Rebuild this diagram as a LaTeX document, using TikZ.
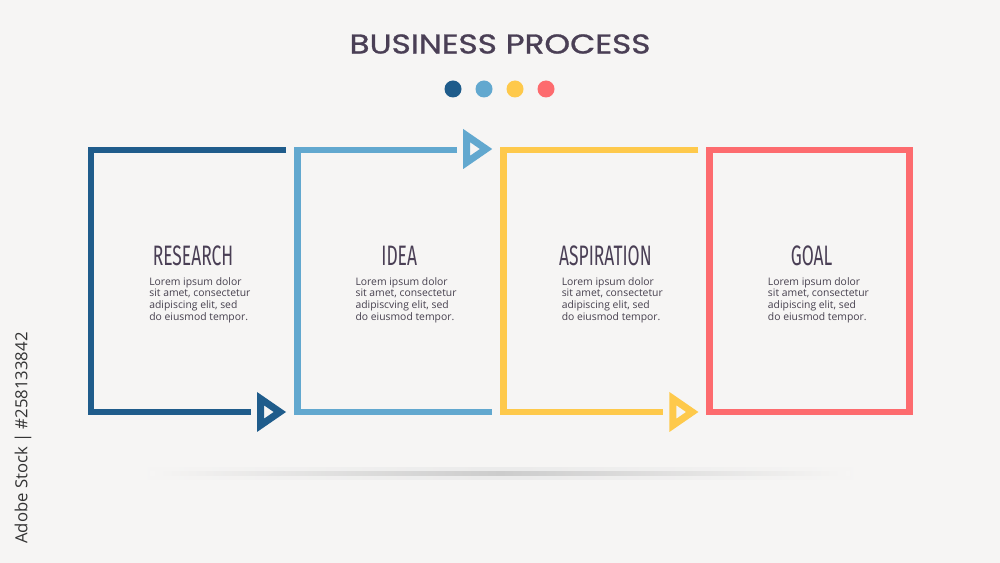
\documentclass[tikz,border=0pt]{standalone}
\usepackage{fontspec}
\setmainfont{Open Sans}
\newfontfamily\titlefont[FakeStretch=1.2,FakeBold=1]{Poppins}
\newfontfamily\headfont[FakeStretch=0.62]{Fira Sans}
\usetikzlibrary{positioning}
\definecolor{bgwhite}{RGB}{246,245,244}
\definecolor{stepblue}{RGB}{31,92,139}
\definecolor{skyblue}{RGB}{98,168,207}
\definecolor{sunyellow}{RGB}{254,201,75}
\definecolor{coral}{RGB}{253,107,110}
\definecolor{plum}{RGB}{74,63,85}
\definecolor{inkgray}{RGB}{70,64,78}
\newcommand\tipmark[3]{%
  \fill[#3,even odd rule,shift={(#1,#2)}]
    (0,-20) -- (29,0) -- (0,20) -- cycle
    (7,-6.7) -- (16.7,0) -- (7,6.7) -- cycle;}

\begin{document}
\begin{tikzpicture}[x=0.02cm,y=-0.02cm,
  frame/.style={line width=3.9pt,line join=miter},
  head/.style={font=\headfont\fontsize{16}{18}\selectfont,text=plum},
  body/.style={anchor=north west,align=left,inner sep=0pt,
    font=\fontsize{5.9}{6.6}\selectfont,text=inkgray}]
  \def\bs{206.2}
  \def\bx{200}

  \fill[bgwhite] (0,0) rectangle (1000,563);
  \useasboundingbox (0,0) rectangle (1000,563);

  \shade[left color=bgwhite,right color=bgwhite,middle color=black!8]
    (130,467) rectangle (870,479);
  \shade[left color=bgwhite,right color=bgwhite,middle color=black!20]
    (150,471) rectangle (850,475);

  \node[font=\titlefont\fontsize{15.5}{18}\selectfont,text=plum] (title)
    at (500,44) {BUSINESS PROCESS};
  \foreach \k/\c in {0/stepblue,1/skyblue,2/sunyellow,3/coral}
    \fill[\c] (453+31*\k,89) circle[radius=0.17cm];

  \foreach \k/\c in {0/stepblue,2/sunyellow} {
    \pgfmathsetmacro{\L}{91+\k*\bs}
    \draw[frame,\c] (\L+195,150) -- (\L,150) -- (\L,412) -- (\L+160,412);
    \tipmark{\L+166}{412}{\c}
  }
  \pgfmathsetmacro{\L}{91+\bs}
  \draw[frame,skyblue] (\L+160,150) -- (\L,150) -- (\L,412) -- (\L+195,412);
  \tipmark{\L+166}{149}{skyblue}
  \pgfmathsetmacro{\L}{91+3*\bs}
  \draw[frame,coral] (\L,150) rectangle (\L+\bx,412);

  \foreach \k/\l in {0/RESEARCH,1/IDEA,2/ASPIRATION,3/GOAL} {
    \pgfmathsetmacro{\L}{91+\k*\bs}
    \node[head] (h\k) at (\L+102,256) {\l};
  }
  \foreach \k/\l in {0/adipiscing,1/adipiscving,2/adipiscing,3/adipiscing} {
    \pgfmathsetmacro{\L}{91+\k*\bs}
    \node[body] (t\k) at (\L+58,277)
      {Lorem ipsum dolor\\sit amet, consectetur\\\l\ elit, sed\\do eiusmod tempor.};
  }

  \node[rotate=90,font=\fontsize{9.5}{11}\selectfont,text=black!80] (stockid)
    at (23,438) {Adobe Stock | \#258133842};
\end{tikzpicture}
\end{document}
